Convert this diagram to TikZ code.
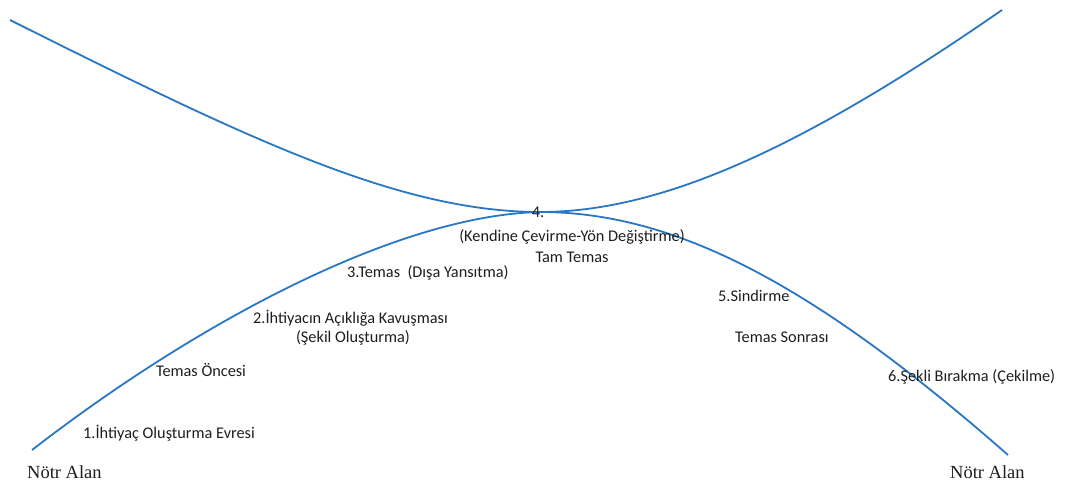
\documentclass[tikz,border=0pt]{standalone}
\usepackage{fontspec}
\setmainfont{Carlito}
\newfontfamily\timesfont{Liberation Serif}
\usetikzlibrary{positioning}
\definecolor{curveblue}{RGB}{40,118,196}
\definecolor{textgray}{RGB}{30,30,30}

\begin{document}
\begin{tikzpicture}[x=1pt,y=-1pt]
\tikzset{
  phase/.style={font=\fontsize{16.3}{19}\selectfont,inner sep=0pt,text=textgray},
  zone/.style={font=\timesfont\fontsize{18.5}{20}\selectfont,inner sep=0pt,text=textgray,anchor=west},
  curve/.style={curveblue,line width=1.8pt}
}
\useasboundingbox (0,0) rectangle (1066,488);
\coordinate (upL) at (10,20);
\coordinate (upR) at (1002,10);
\coordinate (mid) at (540,212);
\coordinate (lowL) at (32,450);
\coordinate (lowR) at (1008,455);
% two curves meeting at full contact
\draw[curve] (upL) .. controls (250,140) and (400,212) .. (mid)
  .. controls (660,212) and (800,150) .. (upR);
\draw[curve] (lowL) .. controls (200,320) and (400,215) .. (mid)
  .. controls (680,212) and (820,290) .. (lowR);
% phases
\node[phase] (p4) at (538,212) {4.};
\node[phase] (p4a) at (572,237) {(Kendine Çevirme-Yön Değiştirme)};
\node[phase] (p4b) at (572,257) {Tam Temas};
\node[phase,anchor=west] (p3) at (347,273) {3.Temas\ \ (Dışa Yansıtma)};
\node[phase,anchor=west] (p2) at (253,318) {2.İhtiyacın Açıklığa Kavuşması};
\node[phase] (p2a) at (353,338) {(Şekil Oluşturma)};
\node[phase] (pre) at (201,370) {Temas Öncesi};
\node[phase,anchor=west] (p1) at (83,433) {1.İhtiyaç Oluşturma Evresi};
\node[phase,anchor=west] (p5) at (718,296) {5.Sindirme};
\node[phase,anchor=west] (post) at (735,337) {Temas Sonrası};
\node[phase,anchor=west] (p6) at (888,377) {6.Şekli Bırakma (Çekilme)};
% neutral zones
\node[zone] (nL) at (27,472) {Nötr Alan};
\node[zone] (nR) at (950,472) {Nötr Alan};
\end{tikzpicture}
\end{document}
